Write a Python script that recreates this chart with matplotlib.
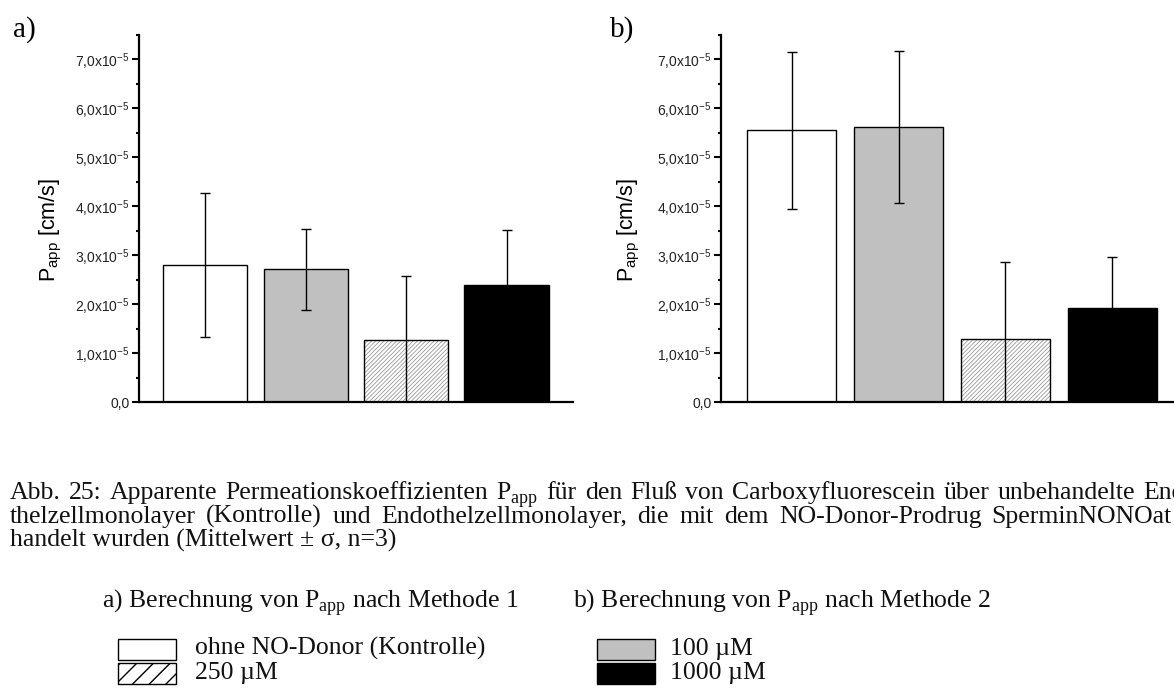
"""
Papp-Vergleich (Methode 1 / Methode 2) mit Bildunterschrift und Legende
"""

import matplotlib
matplotlib.use("Agg")
import matplotlib.pyplot as plt
from matplotlib.patches import Rectangle
from matplotlib.ticker import MultipleLocator, FuncFormatter
import numpy as np


plt.rcParams["font.family"] = ["Liberation Sans", "DejaVu Sans"]
plt.rcParams["hatch.linewidth"] = 0.6
SERIF = ["Liberation Serif", "DejaVu Serif"]
CAP_SIZE = 18.5

W, H = 1174, 688

# ── Daten ──
groups = ["ohne NO-Donor (Kontrolle)", "100 µM", "250 µM", "1000 µM"]
papp_m1 = [2.80e-5, 2.71e-5, 1.27e-5, 2.39e-5]
sd_m1 = [1.48e-5, 0.83e-5, 1.31e-5, 1.13e-5]
papp_m2 = [5.55e-5, 5.62e-5, 1.28e-5, 1.93e-5]
sd_m2 = [1.60e-5, 1.56e-5, 1.59e-5, 1.03e-5]

# Stil pro Gruppe
FACE = {"ohne NO-Donor (Kontrolle)": "white", "100 µM": "#C0C0C0",
        "250 µM": "white", "1000 µM": "black"}
HATCHED = ["250 µM"]


def fx(x):
    return x / W


def fy(y):
    return 1 - y / H


def tick_fmt(v, pos):
    if abs(v) < 1e-12:
        return "0,0"
    s = f"{v / 1e-5:.1f}".replace(".", ",")
    return s + "x10$^{\\mathregular{-5}}$"


def draw_panel(ax, means, errs, width, label_px):
    x = np.arange(1, len(means) + 1)
    for xi, g, m in zip(x, groups, means):
        if g in HATCHED:
            ax.bar(xi, m, width, color="white", edgecolor="#9a9a9a",
                   hatch="////////", linewidth=0, zorder=2)
            ax.bar(xi, m, width, fill=False, edgecolor="black",
                   linewidth=1.0, zorder=3)
        else:
            ax.bar(xi, m, width, color=FACE[g], edgecolor="black",
                   linewidth=1.0, zorder=2)
    ax.errorbar(x, means, yerr=errs, fmt="none", ecolor="black",
                elinewidth=1.0, capsize=3.5, capthick=1.0, zorder=4)

    ax.set_xlim(0.34, 4.66)
    ax.set_ylim(0, 7.5e-5)
    ax.set_xticks([])
    ax.yaxis.set_major_locator(MultipleLocator(1e-5))
    ax.yaxis.set_minor_locator(MultipleLocator(0.5e-5))
    ax.yaxis.set_major_formatter(FuncFormatter(tick_fmt))
    ax.tick_params(axis="y", which="major", length=5, width=1.5,
                   labelsize=10, pad=2, labelcolor="#222")
    ax.tick_params(axis="y", which="minor", length=2.5, width=1.5)
    for side in ["top", "right"]:
        ax.spines[side].set_visible(False)
    for side in ["left", "bottom"]:
        ax.spines[side].set_linewidth(1.6)
    ax.set_ylabel("P$_{\\mathregular{app}}$ [cm/s]", fontsize=15.5)
    left_px = ax.get_position().x0 * W
    width_px = ax.get_position().width * W
    ax.yaxis.set_label_coords((label_px - left_px) / width_px, 0.47)


fig = plt.figure(figsize=(W / 100, H / 100), dpi=100)
fig.patch.set_facecolor("white")

ax_a = fig.add_axes([fx(139), fy(402), fx(573 - 139), 367 / H])
ax_b = fig.add_axes([fx(721), fy(402), fx(462), 367 / H])
draw_panel(ax_a, papp_m1, sd_m1, 0.84, 64)
draw_panel(ax_b, papp_m2, sd_m2, 0.83, 642)

fig.text(fx(13), fy(37), "a)", family=SERIF, fontsize=21, va="baseline")
fig.text(fx(610), fy(37), "b)", family=SERIF, fontsize=21, va="baseline")

# ── Bildunterschrift im Blocksatz ──
PAPP = "P$_{\\mathregular{app}}$"
renderer = fig.canvas.get_renderer()


def justified(words, base, x0, anchor_idx, anchor_px, anchor_end):
    """Wörter gleichmäßig verteilen, so dass Wort anchor_idx bei anchor_px
    beginnt (anchor_end=False) bzw. endet (anchor_end=True)."""
    texts = [fig.text(0, fy(base), w, family=SERIF, fontsize=CAP_SIZE,
                      va="baseline", color="#111") for w in words]
    widths = [t.get_window_extent(renderer).width for t in texts]
    used = sum(widths[:anchor_idx + (1 if anchor_end else 0)])
    gap = (anchor_px - x0 - used) / anchor_idx
    x = x0
    for t, w in zip(texts, widths):
        t.set_x(fx(x))
        x += w + gap


line1 = ["Abb.", "25:", "Apparente", "Permeationskoeffizienten", PAPP,
         "für", "den", "Fluß", "von", "Carboxyfluorescein", "über",
         "unbehandelte", "Endo-"]
line2 = ["thelzellmonolayer", "(Kontrolle)", "und", "Endothelzellmonolayer,",
         "die", "mit", "dem", "NO-Donor-Prodrug", "SperminNONOat", "be-"]
justified(line1, 499, 10, len(line1) - 1, 1143, False)
justified(line2, 523, 10, len(line2) - 2, 1172, True)
fig.text(fx(10), fy(547), "handelt wurden (Mittelwert ± σ, n=3)",
         family=SERIF, fontsize=CAP_SIZE, va="baseline", color="#111")

fig.text(fx(102), fy(608), "a) Berechnung von " + PAPP + " nach Methode 1",
         family=SERIF, fontsize=CAP_SIZE, va="baseline", color="#111")
fig.text(fx(573), fy(608), "b) Berechnung von " + PAPP + " nach Methode 2",
         family=SERIF, fontsize=CAP_SIZE, va="baseline", color="#111")

# ── Legende ──
plt.rcParams["hatch.linewidth"] = 1.0
legend_items = [
    (groups[0], 118, 639, 195, 655),
    (groups[2], 118, 663, 195, 679),
    (groups[1], 597, 639, 670, 655),
    (groups[3], 597, 663, 670, 679),
]
for g, bx, by, tx, ty in legend_items:
    hatch = "//" if g in HATCHED else None
    rect = Rectangle((fx(bx), fy(by + 21)), fx(58), 21 / H,
                     transform=fig.transFigure, facecolor=FACE[g],
                     edgecolor="black", linewidth=1.0, hatch=hatch)
    fig.add_artist(rect)
    fig.text(fx(tx), fy(ty), g, family=SERIF, fontsize=CAP_SIZE,
             va="baseline", color="#111")

fig.savefig("out.png", dpi=100, facecolor="white")
plt.close(fig)
